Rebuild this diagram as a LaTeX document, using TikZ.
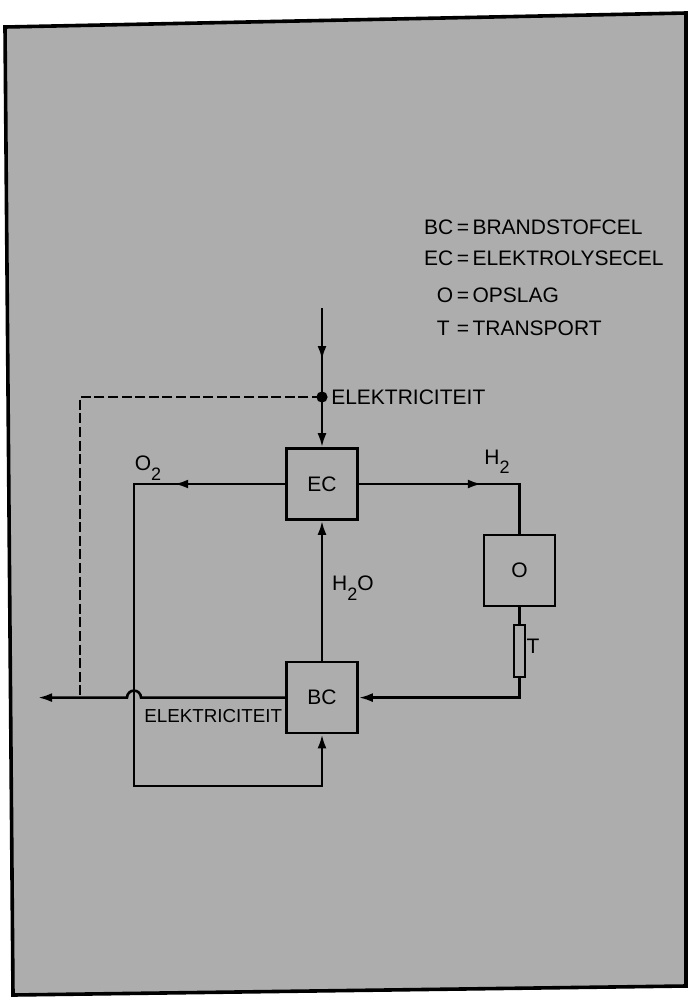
\documentclass[tikz,border=0pt]{standalone}
\usepackage{fontspec}
\setmainfont{Liberation Sans}
\usetikzlibrary{arrows.meta, positioning, decorations.markings}

\newcommand{\lowidx}[1]{\raisebox{-0.85ex}{\fontsize{9}{10}\selectfont #1}}

\begin{document}
\begin{tikzpicture}[
    x=0.5pt, y=-0.5pt,
    line width=1.3pt,
    unit/.style={rectangle, draw, minimum width=35.5pt, minimum height=35.5pt,
                 inner sep=0pt, font=\fontsize{10.5}{12}\selectfont},
    tube/.style={rectangle, draw, line width=1pt, minimum width=5.5pt,
                 minimum height=26pt, inner sep=0pt},
    lbl/.style={inner sep=1pt, font=\fontsize{10.5}{12}\selectfont},
    legend/.style={inner sep=0pt, font=\fontsize{10.5}{12}\selectfont},
    arr/.style={-{Latex[length=7pt, width=4.5pt]}},
    flow/.style={postaction={decorate}, decoration={markings,
                 mark=at position #1 with {\arrow{Latex[length=7pt, width=4.5pt]}}}},
]
  \useasboundingbox (0,0) rectangle (691,997);
  \filldraw[fill=black!32, line width=1.8pt]
    (5,27) -- (686,13) -- (686,986) -- (13,995) -- cycle;

  % legend
  \node[legend, anchor=west] (lgbc) at (422,227) {\makebox[15pt][r]{BC}\,=\,BRANDSTOFCEL};
  \node[legend, below=15.5pt of lgbc.west, anchor=west] (lgec) {\makebox[15pt][r]{EC}\,=\,ELEKTROLYSECEL};
  \node[legend, below=18.5pt of lgec.west, anchor=west] (lgo) {\makebox[15pt][r]{O}\,=\,OPSLAG};
  \node[legend, below=16.5pt of lgo.west, anchor=west] (lgt) {\makebox[15pt][r]{T\,}\,=\,TRANSPORT};

  % cells
  \node[unit] (ec) at (322,484) {EC};
  \node[unit, below=70pt of ec] (bc) {BC};
  \node[unit, below right=6.5pt and 62pt of ec] (o) {O};
  \node[tube, below=8.5pt of o] (t) {};

  \coordinate (src) at (322,308);
  \coordinate (split) at (322,397);
  \coordinate (loop) at (134,786);
  \coordinate (hop) at (bc.west -| loop);
  \coordinate (dashend) at (bc.west -| 80,0);
  \coordinate (sink) at (bc.west -| 38,0);

  % electricity in
  \draw[flow=26pt] (src) -- (split);
  \fill (split) circle[radius=2.8pt];
  \draw[arr] (split) -- (ec.north);
  \draw[dash pattern=on 5pt off 1.8pt] (split) -| (dashend);

  % gases
  \draw[arr, flow=55.5pt] (ec.west) -| (loop) -| (bc.south);
  \draw[flow=61.5pt] (ec.east) -| (o.north);
  \draw (o.south) -- (t.north);
  \draw[arr] (t.south) |- (bc.east);
  \draw[arr] (bc.north) -- (ec.south);

  % electricity out
  \draw[arr] (bc.west) -- ([xshift=3.5pt]hop) arc[start angle=0, end angle=180, radius=3.5pt] -- (sink);

  % labels
  \node[lbl] (o2lbl) at (148,468) {O\lowidx{2}};
  \node[lbl] (h2lbl) at (497,462) {H\lowidx{2}};
  \node[lbl] (h2olbl) at (353,588) {H\lowidx{2}O};
  \node[lbl] (tlbl) at (533,646) {T};
  \node[lbl, anchor=west] (eltop) at (328,397) {ELEKTRICITEIT};
  \node[lbl, anchor=west, font=\fontsize{9.4}{12}\selectfont] (elbot) at (141,716) {ELEKTRICITEIT};
\end{tikzpicture}
\end{document}
